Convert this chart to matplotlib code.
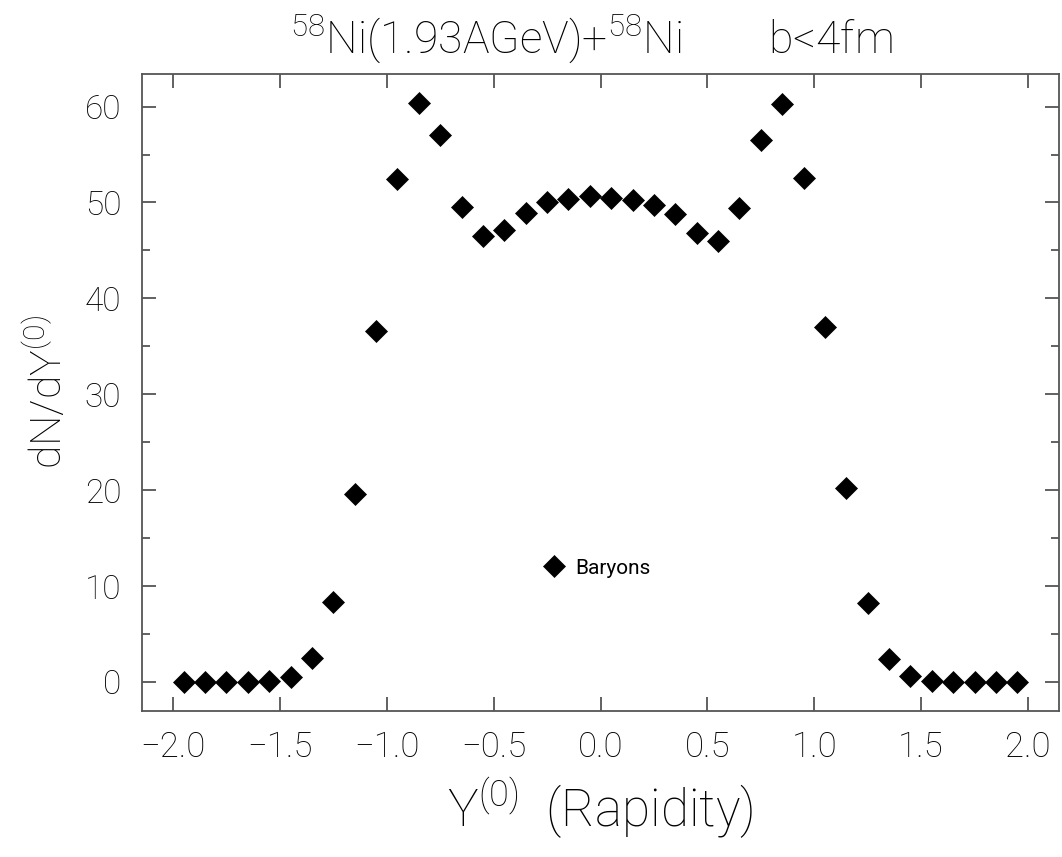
import numpy as np
import matplotlib.pyplot as plt

# rapidity bins (centres) and baryon dN/dY values
rapidity = [-1.95, -1.85, -1.75, -1.65, -1.55, -1.45, -1.35, -1.25, -1.15, -1.05,
            -0.95, -0.85, -0.75, -0.65, -0.55, -0.45, -0.35, -0.25, -0.15, -0.05,
            0.05, 0.15, 0.25, 0.35, 0.45, 0.55, 0.65, 0.75, 0.85, 0.95,
            1.05, 1.15, 1.25, 1.35, 1.45, 1.55, 1.65, 1.75, 1.85, 1.95]
dndy = [0.0, 0.0, 0.0, 0.0, 0.1, 0.5, 2.5, 8.3, 19.6, 36.6,
        52.4, 60.4, 57.0, 49.5, 46.5, 47.1, 48.9, 50.0, 50.4, 50.7,
        50.5, 50.3, 49.7, 48.8, 46.8, 46.0, 49.4, 56.5, 60.3, 52.6,
        37.0, 20.2, 8.2, 2.4, 0.6, 0.1, 0.0, 0.0, 0.0, 0.0]
xticks = [-2.0, -1.5, -1.0, -0.5, 0.0, 0.5, 1.0, 1.5, 2.0]
yticks = [0, 10, 20, 30, 40, 50, 60]

plt.rcParams['font.family'] = ['Roboto', 'DejaVu Sans']
plt.rcParams['font.weight'] = 'light'
plt.rcParams['axes.labelweight'] = 'light'
plt.rcParams['mathtext.fontset'] = 'custom'
plt.rcParams['mathtext.rm'] = 'Roboto:light'
plt.rcParams['mathtext.default'] = 'rm'

fig = plt.figure(figsize=(10.62, 8.57), dpi=100)
ax = fig.add_axes([0.1337, 0.1707, 0.8635, 0.743])

ax.plot(rapidity, dndy, linestyle='none', marker='D', markersize=11.5,
        color='black', markeredgewidth=0.5, label='Baryons')

ax.set_xlim(-2.145, 2.145)
ax.set_ylim(-3.0, 63.4)
ax.set_xticks(xticks)
ax.set_xticklabels([f'{t:.1f}'.replace('-', '\u2212') for t in xticks])
ax.set_yticks(yticks)
ax.set_yticks(np.arange(5, 60, 10), minor=True)

for s in ax.spines.values():
    s.set_color('#555555')
    s.set_linewidth(1.3)
ax.tick_params(which='both', direction='in', top=True, right=True,
               color='#555555', width=1.3)
ax.tick_params(which='major', length=10)
ax.tick_params(which='minor', length=6)
ax.tick_params(axis='x', labelsize=25, pad=14)
ax.tick_params(axis='y', labelsize=24, pad=15)

ax.set_xlabel(r'Y$^{(0)}$  (Rapidity)', fontsize=37, fontweight='light', labelpad=8)
ax.set_ylabel(r'dN/dY$^{(0)}$', fontsize=31, fontweight='light', labelpad=10)
fig.text(0.557, 0.955, r'$^{58}$Ni(1.93AGeV)+$^{58}$Ni        b<4fm',
         fontsize=32, fontweight='light', ha='center', va='center')

ax.legend(loc='center left', bbox_to_anchor=(0.438, 0.224), frameon=False,
          numpoints=1, handlelength=1.0, handletextpad=0.5, borderpad=0,
          borderaxespad=0, prop={'size': 15, 'weight': 'normal'})

fig.savefig('out.png', dpi=100)
